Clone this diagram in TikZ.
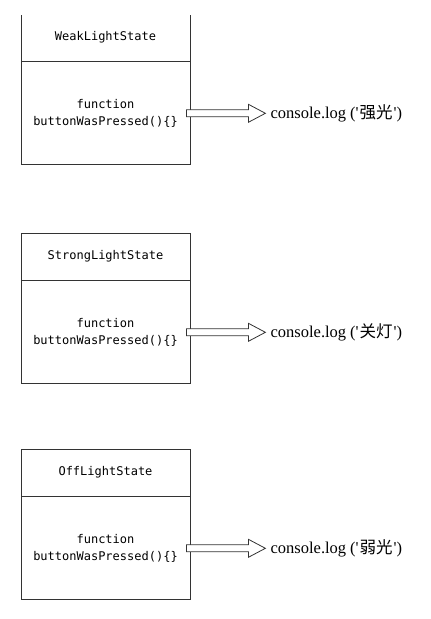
\documentclass[tikz,border=0pt]{standalone}
\usepackage{fontspec}
\setmainfont{Liberation Serif}
\newfontfamily\codefont{DejaVu Sans Mono}
\newfontfamily\cjk{Noto Sans CJK SC}
\begin{document}
\begin{tikzpicture}[x=1pt,y=-1pt,
  boxline/.style={draw=black!80,line width=0.8pt},
  titlebox/.style={boxline,minimum width=169pt,minimum height=47pt,inner sep=0pt,font=\codefont\fontsize{12}{14}\selectfont},
  bodybox/.style={boxline,minimum width=169pt,minimum height=103pt,inner sep=0pt,align=center,font=\codefont\fontsize{12}{17.5}\selectfont},
  hollowarrow/.style={draw=black!80,line width=0.8pt,fill=white,line join=miter},
  logtext/.style={anchor=west,inner sep=0pt,font=\fontsize{16.5}{18}\selectfont}
]
\useasboundingbox (0,0) rectangle (431,619);
\clip (0,15) rectangle (431,619);
% box 1
\node[titlebox] (t1) at (105.5,37.5) {WeakLightState};
\node[bodybox,anchor=north] (b1) at (t1.south) {function\\buttonWasPressed()\{\}};
% box 2
\node[titlebox] (t2) at (105.5,256.5) {StrongLightState};
\node[bodybox,anchor=north] (b2) at (t2.south) {function\\buttonWasPressed()\{\}};
% box 3
\node[titlebox] (t3) at (105.5,472.5) {OffLightState};
\node[bodybox,anchor=north] (b3) at (t3.south) {function\\buttonWasPressed()\{\}};
% arrows and texts
\foreach \i/\txt in {1/强光,2/关灯,3/弱光}{
  \draw[hollowarrow] ([shift={(-4,-3.5)}]b\i.east) -- ++(62,0) -- ++(0,-5.5) -- ++(17,9) -- ++(-17,9) -- ++(0,-5.5) -- ++(-62,0) -- cycle;
  \node[logtext] (l\i) at ([xshift=80]b\i.east) {console.log\hspace{4pt}(\textquotesingle\hspace{1pt}{\cjk\fontsize{16.5}{18}\selectfont \txt}\hspace{1pt}\textquotesingle)};
}
\end{tikzpicture}
\end{document}
